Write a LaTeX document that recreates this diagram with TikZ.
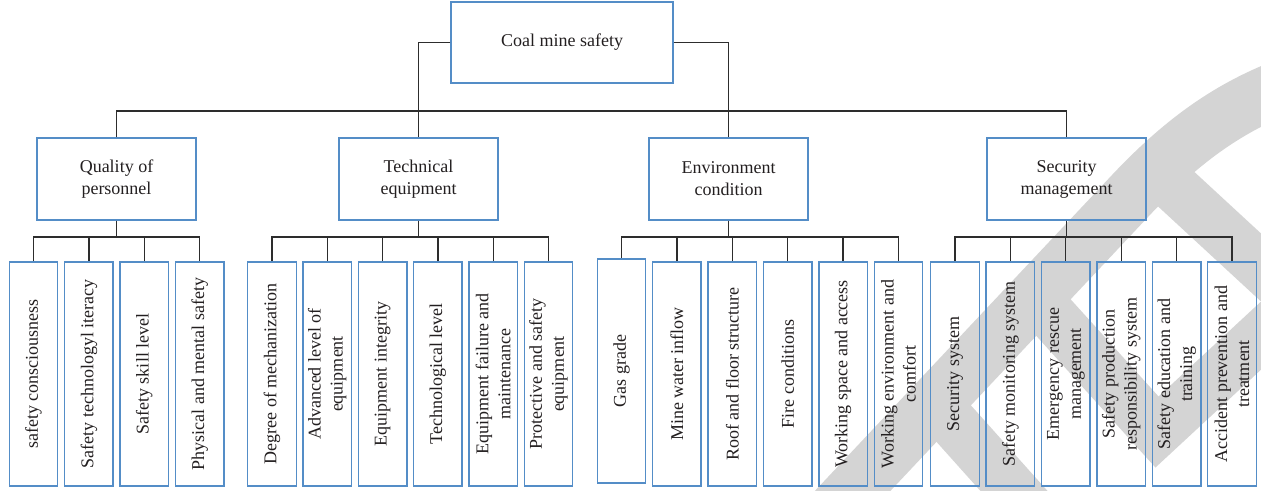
\documentclass[tikz,border=0pt]{standalone}
\usepackage{fontspec}
\setmainfont{Liberation Serif}
\usetikzlibrary{positioning}

\definecolor{boxblue}{RGB}{84,141,199}
\definecolor{wiregray}{RGB}{45,45,45}
\definecolor{inkblack}{RGB}{35,31,32}
\definecolor{wmgray}{RGB}{212,212,212}

\begin{document}
\begin{tikzpicture}
[
    x=1pt, y=-1pt, text=inkblack,
    font=\fontsize{18}{22}\selectfont,
    % The root is N-0, the categories are C-1 ... C-4
    % Leaves are named L-category-row, e.g. L-1-0 ... L-1-3
]

%=================================== Start ===================================
\tikzstyle{root} = [draw=boxblue, line width=1.4pt, inner sep=0pt, align=center,
                    minimum width=222pt, minimum height=81pt]
\tikzstyle{cat}  = [root, minimum width=159pt, minimum height=82pt]
\tikzstyle{leaf} = [draw=boxblue, line width=1.4pt, inner sep=0pt, align=center,
                    rotate=90, minimum width=224pt, minimum height=48.5pt]
\tikzstyle{link} = [draw=wiregray, line width=1.3pt]
\tikzstyle{wm}   = [draw=wmgray, line width=55pt]

\useasboundingbox (0,0) rectangle (1261,490);

% watermark in the lower right corner
\draw[wm] (830,515) -- (1130,196) .. controls (1175,148) and (1220,112) .. (1280,88);
\draw[wm, line width=50pt] (1150,165) -- (1280,285);
\draw[wm, line width=50pt] (1033,295) -- (1157,432) -- (1280,318);
\draw[wm, line width=50pt] (929,396) -- (1040,520);

% root and categories
\node[root] (N-0) at (562,42.5) {Coal mine safety};
\foreach \c / \x / \t in {1/116.5/{Quality of\\personnel}, 2/418.5/{Technical\\equipment},
                          3/728.5/{Environment\\condition}, 4/1066.5/{Security\\management}}
    \node[cat] (C-\c) at (\x,179) {\t};

% leaves
\foreach \i / \t in {0/{safety consciousness}, 1/{Safety technologyl iteracy},
                     2/{Safety skill level}, 3/{Physical and mental safety}}
    \node[leaf] (L-1-\i) at ({33.5+55.4*\i},374) {\t};
\foreach \i / \t in {0/{Degree of mechanization}, 1/{Advanced level of\\equipment},
                     2/{Equipment integrity}, 3/{Technological level},
                     4/{Equipment failure and\\maintenance}, 5/{Protective and safety\\equipment}}
    \node[leaf] (L-2-\i) at ({272+55.3*\i},374) {\t};
\node[leaf] (L-3-0) at (621.5,371) {Gas grade};
\foreach \i / \t in {1/{Mine water inflow}, 2/{Roof and floor structure}, 3/{Fire conditions},
                     4/{Working space and access}, 5/{Working environment and\\comfort}}
    \node[leaf] (L-3-\i) at ({621.5+55.4*\i},374) {\t};
\foreach \i / \t in {0/{Security system}, 1/{Safety monitoring system},
                     2/{Emergency rescue\\management}, 3/{Safety production\\responsibility system},
                     4/{Safety education and\\training}, 5/{Accident prevention and\\treatment}}
    \node[leaf] (L-4-\i) at ({955+55.4*\i},374) {\t};

% upper connections
\coordinate (bus) at (0,111);
\coordinate (lbus) at (0,237);
\draw[link] (N-0.west) -| (C-2.north);
\draw[link] (N-0.east) -| (C-3.north);
\draw[link] (C-1.north) |- (C-4.north |- bus) -- (C-4.north);

% lower connections, note: the leaves are rotated, so their top is .east
\foreach \c / \n in {1/3, 2/5, 3/5, 4/5} {
    \draw[link] (C-\c.south) -- (C-\c.south |- lbus);
    \foreach \i in {0,...,\n}
        \draw[link] (C-\c.south |- lbus) -| (L-\c-\i.east);
}
%==================================== END ====================================

\end{tikzpicture}
\end{document}
